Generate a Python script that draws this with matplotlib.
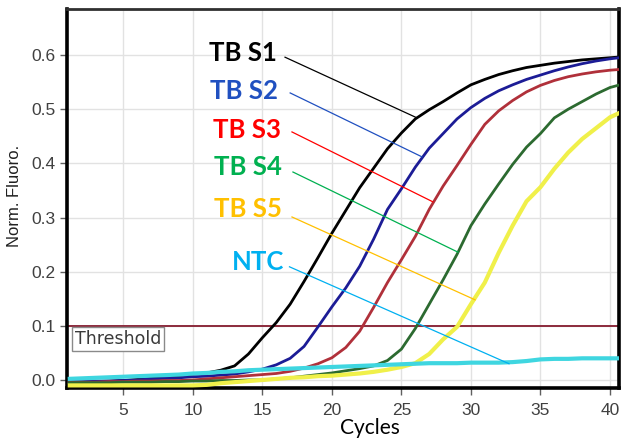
import numpy as np
import matplotlib.pyplot as plt

# Zyklen und normierte Fluoreszenz
cycles = np.arange(1, 42)

tb_s1 = [-0.004, -0.004, -0.003, -0.002, -0.001, 0.001, 0.003, 0.005, 0.008, 0.011,
         0.013, 0.018, 0.026, 0.048, 0.078, 0.106, 0.140, 0.182, 0.226, 0.271,
         0.313, 0.355, 0.391, 0.427, 0.456, 0.482, 0.499, 0.514, 0.530, 0.545,
         0.555, 0.564, 0.571, 0.577, 0.581, 0.585, 0.588, 0.591, 0.593, 0.595, 0.597]
tb_s2 = [-0.003, -0.003, -0.002, -0.002, -0.001, 0.000, 0.002, 0.003, 0.004, 0.006,
         0.007, 0.009, 0.011, 0.015, 0.020, 0.028, 0.040, 0.062, 0.098, 0.135,
         0.170, 0.210, 0.260, 0.315, 0.353, 0.393, 0.428, 0.455, 0.482, 0.503,
         0.520, 0.534, 0.545, 0.555, 0.563, 0.571, 0.578, 0.584, 0.589, 0.593, 0.596]
tb_s3 = [-0.004, -0.004, -0.004, -0.003, -0.003, -0.002, -0.002, -0.001, -0.001, 0.000,
         0.002, 0.004, 0.006, 0.008, 0.010, 0.012, 0.016, 0.022, 0.030, 0.041,
         0.060, 0.090, 0.134, 0.180, 0.222, 0.265, 0.315, 0.358, 0.396, 0.435,
         0.472, 0.497, 0.516, 0.532, 0.544, 0.553, 0.560, 0.565, 0.569, 0.572, 0.574]
tb_s4 = [-0.005, -0.005, -0.005, -0.005, -0.004, -0.004, -0.004, -0.003, -0.003, -0.002,
         -0.002, -0.001, -0.001, 0.000, 0.000, 0.002, 0.004, 0.007, 0.010, 0.013,
         0.017, 0.021, 0.026, 0.036, 0.057, 0.095, 0.140, 0.185, 0.232, 0.285,
         0.325, 0.362, 0.398, 0.430, 0.455, 0.484, 0.500, 0.514, 0.528, 0.540, 0.547]
tb_s5 = [-0.010, -0.010, -0.010, -0.010, -0.010, -0.010, -0.010, -0.010, -0.010, -0.010,
         -0.009, -0.006, -0.004, -0.002, 0.000, 0.002, 0.004, 0.005, 0.007, 0.008,
         0.010, 0.012, 0.015, 0.019, 0.024, 0.031, 0.048, 0.075, 0.098, 0.140,
         0.180, 0.235, 0.285, 0.330, 0.356, 0.390, 0.420, 0.445, 0.465, 0.485, 0.497]
ntc = [0.002, 0.003, 0.004, 0.005, 0.006, 0.007, 0.008, 0.009, 0.010, 0.012,
       0.013, 0.015, 0.016, 0.018, 0.019, 0.020, 0.021, 0.022, 0.023, 0.024,
       0.025, 0.026, 0.027, 0.028, 0.029, 0.030, 0.031, 0.031, 0.031, 0.032,
       0.032, 0.032, 0.033, 0.035, 0.038, 0.039, 0.039, 0.040, 0.040, 0.040, 0.040]

threshold = 0.1
labels = ['TB S1', 'TB S2', 'TB S3', 'TB S4', 'TB S5', 'NTC']
series = [tb_s1, tb_s2, tb_s3, tb_s4, tb_s5, ntc]

# Stil
curve_colors = ['#000000', '#1c1c96', '#b0303a', '#2c6a30', '#f0f04a', '#3fd6e0']
curve_lw = [2.0, 2.0, 2.0, 2.0, 3.0, 3.0]
label_colors = ['#000000', '#2050c0', '#ff0000', '#00b050', '#ffc000', '#00b0f0']
# Beschriftung (rechter Rand, Mitte) und Hinweislinien (Start -> Ende)
label_pos = [(16.05, 0.604), (16.12, 0.533), (16.34, 0.462), (16.41, 0.393), (16.41, 0.316), (16.56, 0.218)]
leader_start = [(16.63, 0.596), (17.0, 0.530), (17.13, 0.458), (17.2, 0.384), (17.13, 0.301), (16.95, 0.209)]
leader_end = [(26.12, 0.484), (26.48, 0.412), (27.26, 0.329), (29.07, 0.236), (30.3, 0.148), (32.74, 0.030)]

fig = plt.figure(figsize=(6.21, 4.40), dpi=100)
ax = fig.add_axes([67 / 621, 52 / 440, 552 / 621, 379 / 440])

for y, c, lw in zip(series, curve_colors, curve_lw):
    ax.plot(cycles, y, color=c, linewidth=lw, solid_capstyle='butt', zorder=3)

ax.axhline(threshold, color='#8c2a3c', linewidth=1.4, zorder=2)
ax.text(1.53, 0.0757, 'Threshold', fontsize=12.5, family='DejaVu Sans', color='#3a3a3a',
        va='center', ha='left', zorder=5,
        bbox=dict(boxstyle='square,pad=0.15', facecolor='white', edgecolor='#8a8a8a', linewidth=1))

for lab, col, (tx, ty), (x0, y0), (x1, y1) in zip(labels, label_colors, label_pos, leader_start, leader_end):
    ax.plot([x0, x1], [y0, y1], color=col, linewidth=0.9, zorder=4)
    ax.text(tx, ty, lab, color=col, fontsize=18.5, fontweight='bold',
            family='Lato', ha='right', va='center', zorder=5)

ax.set_xlim(0.95, 40.65)
ax.set_ylim(-0.0148, 0.685)
ax.set_xticks([5, 10, 15, 20, 25, 30, 35, 40])
ax.set_yticks([0.0, 0.1, 0.2, 0.3, 0.4, 0.5, 0.6])
ax.set_yticklabels(['0.0', '0.1', '0.2', '0.3', '0.4', '0.5', '0.6'])
ax.grid(True, color='#e2e2e2', linewidth=1)
ax.set_axisbelow(True)
ax.tick_params(axis='both', colors='#606060', labelcolor='#404040', labelsize=12.5, length=5, width=1)
ax.tick_params(axis='x', pad=6)
ax.tick_params(axis='y', pad=3)
for lab in ax.get_xticklabels() + ax.get_yticklabels():
    lab.set_family('Liberation Sans')

for s in ['left', 'bottom', 'right']:
    ax.spines[s].set_color('black')
    ax.spines[s].set_linewidth(2.6)
ax.spines['top'].set_color('#303030')
ax.spines['top'].set_linewidth(2.0)

fig.text(15 / 621, 1 - 196 / 440, 'Norm. Fluoro.', rotation=90, fontsize=12,
         family='Liberation Sans', color='#202020', ha='center', va='center')
fig.text(370 / 621, 12 / 440, 'Cycles', fontsize=15, family='Lato', color='black',
         ha='center', va='center')

fig.savefig('out.png', dpi=100)
